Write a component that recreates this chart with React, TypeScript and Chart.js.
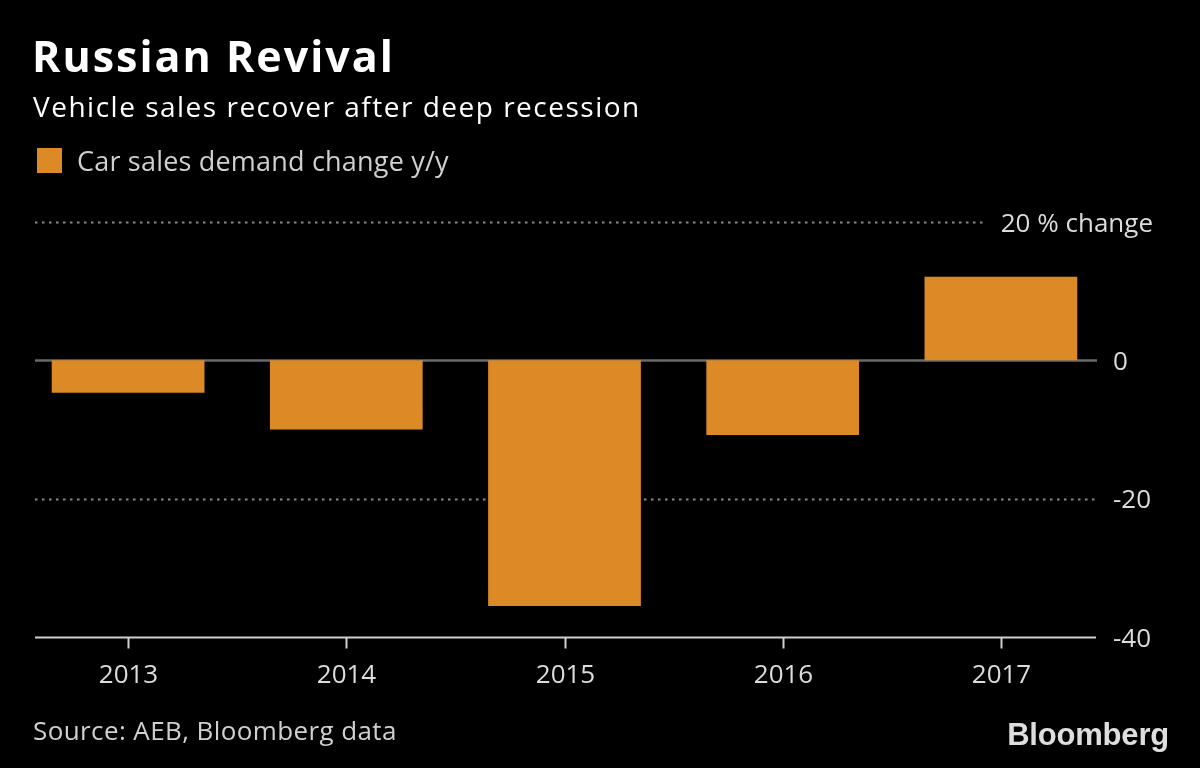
import React, { useEffect, useRef } from "react";
import { Chart, registerables } from "chart.js";

Chart.register(...registerables);

const categories = ["2013", "2014", "2015", "2016", "2017"];
const carSalesChange = [-4.7, -10.0, -35.5, -10.8, 12.1];
const yTickValues = [20, 0, -20, -40];
const yTickLabels = ["20 % change", "0", "-20", "-40"];

const FONT = '"Open Sans", "Noto Sans", sans-serif';
const BAR_COLOR = "#DC8A26";

const decorPlugin = {
  id: "bloombergDecor",
  beforeDatasetsDraw(chart: any) {
    const ctx = chart.ctx;
    const y = chart.scales.y;
    const lineLeft = 35;
    const lineRight = 1097;
    ctx.save();
    yTickValues.forEach((v) => {
      const py = Math.round(y.getPixelForValue(v)) + 0.5;
      if (v === 0) {
        ctx.setLineDash([]);
        ctx.strokeStyle = "#6a6a6a";
        ctx.lineWidth = 2.5;
        ctx.beginPath();
        ctx.moveTo(lineLeft, py);
        ctx.lineTo(lineRight, py);
        ctx.stroke();
      } else if (v !== y.min) {
        ctx.setLineDash([2.5, 4.5]);
        ctx.strokeStyle = "#8a8a8a";
        ctx.lineWidth = 2;
        ctx.beginPath();
        ctx.moveTo(lineLeft, py);
        ctx.lineTo(v === y.max ? 987 : lineRight, py);
        ctx.stroke();
      }
    });
    ctx.restore();
  },
  afterDatasetsDraw(chart: any) {
    const ctx = chart.ctx;
    const x = chart.scales.x;
    const y = chart.scales.y;
    const lineLeft = 35;
    const lineRight = 1096;
    ctx.save();
    const by = Math.round(y.getPixelForValue(y.min)) + 0.5;
    ctx.setLineDash([]);
    ctx.strokeStyle = "#d0d0d0";
    ctx.lineWidth = 2;
    ctx.beginPath();
    ctx.moveTo(lineLeft, by);
    ctx.lineTo(lineRight, by);
    ctx.stroke();
    ctx.font = `26px ${FONT}`;
    ctx.fillStyle = "#dcdcdc";
    ctx.textAlign = "center";
    ctx.textBaseline = "alphabetic";
    categories.forEach((c, i) => {
      const px = Math.round(x.getPixelForValue(i)) + 0.5;
      ctx.beginPath();
      ctx.moveTo(px, by);
      ctx.lineTo(px, by + 11);
      ctx.stroke();
      ctx.fillText(c, px, 683);
    });
    yTickValues.forEach((v, i) => {
      const py = y.getPixelForValue(v) + 9.5;
      if (v === y.max) {
        ctx.textAlign = "right";
        ctx.fillText(yTickLabels[i], 1153, py);
      } else {
        ctx.textAlign = "left";
        ctx.fillText(yTickLabels[i], 1113, py);
      }
    });
    ctx.restore();
  },
};

export default function App() {
  const canvasRef = useRef<HTMLCanvasElement | null>(null);

  useEffect(() => {
    document.body.style.margin = "0";
    document.body.style.background = "#000";
    const canvas = canvasRef.current;
    if (!canvas) return;
    const chart = new Chart(canvas, {
      type: "bar",
      data: {
        labels: categories,
        datasets: [
          {
            label: "Car sales demand change y/y",
            data: carSalesChange,
            backgroundColor: BAR_COLOR,
            borderWidth: 0,
            barPercentage: 0.7,
            categoryPercentage: 1,
          },
        ],
      },
      options: {
        responsive: false,
        animation: false,
        devicePixelRatio: 1,
        layout: { padding: { left: 19, right: 90, top: 222, bottom: 131 } },
        plugins: {
          legend: { display: false },
          tooltip: { enabled: false },
          title: { display: false },
        },
        scales: {
          x: { display: false, offset: true },
          y: { display: false, min: -40, max: 20 },
        },
      },
      plugins: [decorPlugin],
    });
    return () => chart.destroy();
  }, []);

  const textBase: React.CSSProperties = {
    position: "absolute",
    whiteSpace: "nowrap",
    fontFamily: FONT,
    lineHeight: 1,
    margin: 0,
  };

  return (
    <div
      style={{
        position: "fixed",
        left: 0,
        top: 0,
        width: 1200,
        height: 768,
        background: "#000",
        overflow: "hidden",
      }}
    >
      <canvas
        ref={canvasRef}
        width={1200}
        height={768}
        style={{ position: "absolute", left: 0, top: 0, width: 1200, height: 768 }}
      />
      <div
        style={{
          ...textBase,
          left: 32,
          top: 34,
          fontSize: 43,
          fontWeight: 700,
          letterSpacing: 2,
          color: "#fff",
        }}
      >
        Russian Revival
      </div>
      <div style={{ ...textBase, left: 33, top: 92, fontSize: 28, letterSpacing: 1.5, color: "#fff" }}>
        Vehicle sales recover after deep recession
      </div>
      <div
        style={{
          position: "absolute",
          left: 37,
          top: 148,
          width: 25,
          height: 25,
          background: BAR_COLOR,
        }}
      />
      <div style={{ ...textBase, left: 77, top: 147, fontSize: 27, letterSpacing: 0.2, color: "#d0d0d0" }}>
        Car sales demand change y/y
      </div>
      <div style={{ ...textBase, left: 33, top: 717, fontSize: 26, letterSpacing: 0.4, color: "#d0d0d0" }}>
        Source: AEB, Bloomberg data
      </div>
      <div
        style={{
          ...textBase,
          right: 31,
          top: 719,
          fontSize: 31,
          fontWeight: 700,
          fontFamily: '"Liberation Sans", Arial, sans-serif',
          letterSpacing: -0.2,
          color: "#dedede",
        }}
      >
        Bloomberg
      </div>
    </div>
  );
}
